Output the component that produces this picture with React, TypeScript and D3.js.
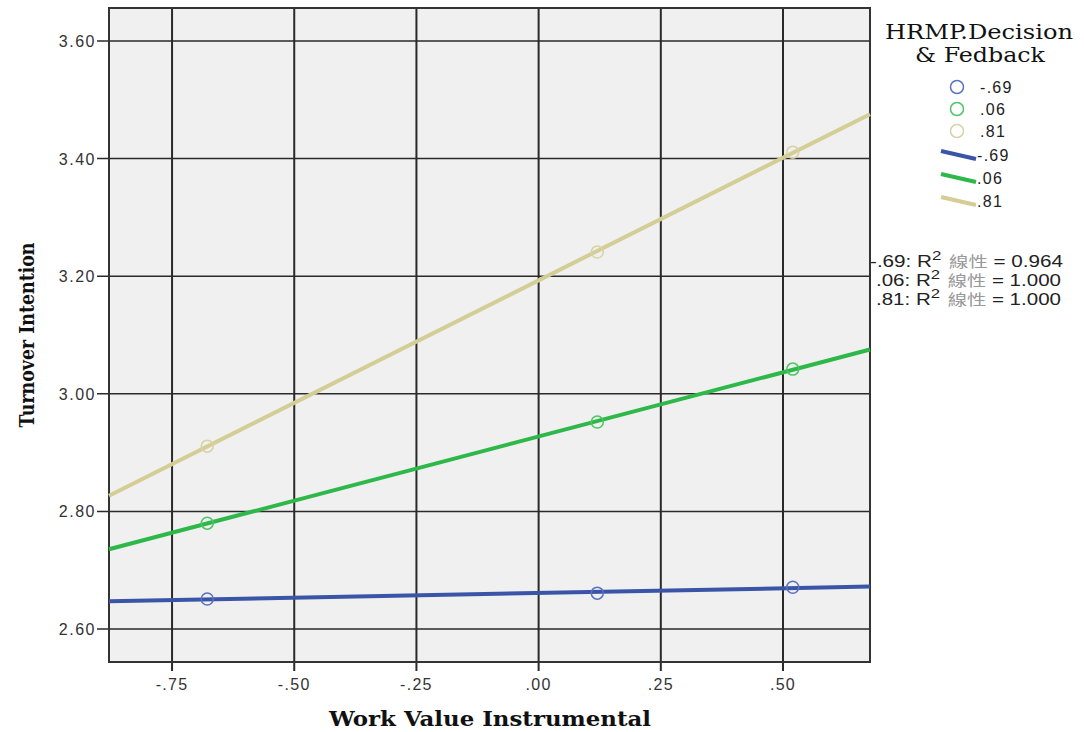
import React from "react";
import * as d3 from "d3";

const groups = ["-.69", ".06", ".81"];
const groupColors = ["#3a55a8", "#2fb84a", "#d4cd95"];
const markerColors = ["#5a72c0", "#4cc565", "#d8d2a6"];
const xValues = [-0.678, 0.12, 0.52];
const blueValues = [2.651, 2.661, 2.671];
const greenValues = [2.78, 2.952, 3.042];
const tanValues = [2.911, 3.241, 3.411];
const seriesValues = [blueValues, greenValues, tanValues];
const r2Labels = ["0.964", "1.000", "1.000"];
const xTicks = [-0.75, -0.5, -0.25, 0, 0.25, 0.5];
const xTickLabels = ["-.75", "-.50", "-.25", ".00", ".25", ".50"];
const yTicks = [2.6, 2.8, 3.0, 3.2, 3.4, 3.6];
const yTickLabels = ["2.60", "2.80", "3.00", "3.20", "3.40", "3.60"];

const X0 = 109, X1 = 870, Y0 = 8, Y1 = 662;
const xDomain = [-0.879, 0.678];

function fit(xs: number[], ys: number[]) {
  const mx = d3.mean(xs)!, my = d3.mean(ys)!;
  let num = 0, den = 0;
  xs.forEach((x, i) => { num += (x - mx) * (ys[i] - my); den += (x - mx) ** 2; });
  const b = num / den;
  return (x: number) => my + b * (x - mx);
}

export default function App() {
  const x = d3.scaleLinear().domain(xDomain).range([X0, X1]);
  const y = d3.scaleLinear().domain([2.6, 3.6]).range([629, 41]);
  const tickFont = "Arial, 'Liberation Sans', sans-serif";
  const serif = "'DejaVu Serif', 'Liberation Serif', serif";
  return (
    <svg width={1084} height={732} style={{ display: "block", position: "absolute", left: 0, top: 0, background: "#fff" }}>
      <rect x={X0} y={Y0} width={X1 - X0} height={Y1 - Y0} fill="#f0f0f0" />
      {xTicks.map((t, i) => (
        <g key={"xt" + i}>
          <line x1={x(t)} x2={x(t)} y1={Y0} y2={Y1 + 9} stroke="#2a2a2a" strokeWidth={2} />
          <text x={x(t)} y={690} textAnchor="middle" fontFamily={tickFont} fontSize={16} letterSpacing={1.3} fill="#333">{xTickLabels[i]}</text>
        </g>
      ))}
      {yTicks.map((t, i) => (
        <g key={"yt" + i}>
          <line x1={X0 - 12} x2={X1} y1={y(t)} y2={y(t)} stroke="#2a2a2a" strokeWidth={1.5} />
          <text x={96} y={y(t) + 6} textAnchor="end" fontFamily={tickFont} fontSize={16} letterSpacing={1.5} fill="#333">{yTickLabels[i]}</text>
        </g>
      ))}
      <rect x={X0} y={Y0} width={X1 - X0} height={Y1 - Y0} fill="none" stroke="#333" strokeWidth={2} />
      {seriesValues.map((vals, si) => {
        const f = fit(xValues, vals);
        return (
          <g key={"s" + si}>
            <line x1={x(xDomain[0])} y1={y(f(xDomain[0]))} x2={x(xDomain[1])} y2={y(f(xDomain[1]))} stroke={groupColors[si]} strokeWidth={4} />
            {vals.map((v, i) => (
              <circle key={i} cx={x(xValues[i])} cy={y(v)} r={6} fill="none" stroke={markerColors[si]} strokeWidth={1.5} />
            ))}
          </g>
        );
      })}
      {/* axis titles */}
      <text x={490} y={726} textAnchor="middle" fontFamily={serif} fontWeight="bold" fontSize={21} fill="#111" textLength={322} lengthAdjust="spacingAndGlyphs">Work Value Instrumental</text>
      <text transform="translate(34,335) rotate(-90)" textAnchor="middle" fontFamily={serif} fontWeight="bold" fontSize={21} fill="#111" textLength={185} lengthAdjust="spacingAndGlyphs">Turnover Intention</text>
      {/* legend */}
      <text x={979} y={39} textAnchor="middle" fontFamily={serif} fontSize={20} fill="#111" textLength={188} lengthAdjust="spacingAndGlyphs">HRMP.Decision</text>
      <text x={980} y={62} textAnchor="middle" fontFamily={serif} fontSize={20} fill="#111" textLength={130} lengthAdjust="spacingAndGlyphs">&amp; Fedback</text>
      {groups.map((g, i) => (
        <g key={"lc" + i}>
          <circle cx={957} cy={87 + i * 22} r={6.5} fill="none" stroke={markerColors[i]} strokeWidth={1.5} />
          <text x={980} y={93 + i * 22} fontFamily={tickFont} fontSize={16} letterSpacing={1.3} fill="#222">{g}</text>
        </g>
      ))}
      {groups.map((g, i) => (
        <g key={"ll" + i}>
          <line x1={941} y1={151 + i * 23} x2={976} y2={159 + i * 23} stroke={groupColors[i]} strokeWidth={4} />
          <text x={977} y={161 + i * 23} fontFamily={tickFont} fontSize={16} letterSpacing={1.3} fill="#222">{g}</text>
        </g>
      ))}
      {groups.map((g, i) => (
        <text key={"r2" + i} x={i === 0 ? 870 : 876} y={267 + i * 19} fontFamily={tickFont} fontSize={16} fill="#222"
          textLength={i === 0 ? 193 : 185} lengthAdjust="spacingAndGlyphs">
          <tspan>{i === 0 ? "-" + g.replace("-", "") : g.replace("-", "")}: R</tspan>
          <tspan dy={-7} fontSize={13}>2</tspan>
          <tspan dy={7} fill="#999" dx={6} fontFamily="'Noto Sans CJK TC', sans-serif" fontSize={15}>線性</tspan>
          <tspan> = {r2Labels[i]}</tspan>
        </text>
      ))}
    </svg>
  );
}
